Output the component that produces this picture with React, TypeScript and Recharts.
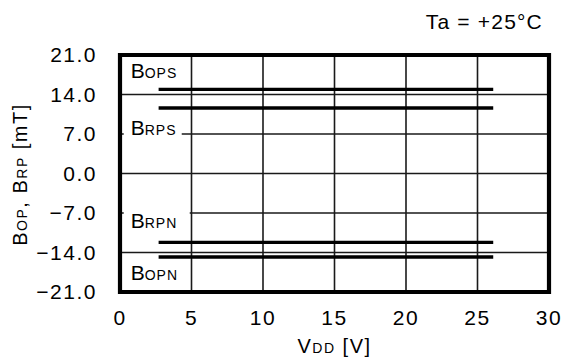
import { LineChart, Line, XAxis, YAxis, CartesianGrid, ReferenceArea, ReferenceDot, Label } from 'recharts';

// supply voltage range of the measured lines
const VDD = [2.7, 26.1];
// magnetic switching points [mT]
const B_OPS = [14.9, 14.9];
const B_RPS = [11.6, 11.6];
const B_RPN = [-12.2, -12.2];
const B_OPN = [-14.8, -14.8];

const X_TICKS = [0, 5, 10, 15, 20, 25, 30];
const Y_TICKS = [-21, -14, -7, 0, 7, 14, 21];

// in-plot tag names and anchor (data coords, text baseline start)
const TAG_NAMES = ['OPS', 'RPS', 'RPN', 'OPN'];
const TAG_X = [0.75, 0.75, 0.75, 0.75];
const TAG_Y = [16.87, 6.82, -9.66, -18.87];

const FONT = '"Liberation Sans", Arial, sans-serif';
const INK = '#000';
const GRID = '#1a1a1a';
const TAG_BOX: Record<string, number> = { RPS: 51, RPN: 59 };

const series = [B_OPS, B_RPS, B_RPN, B_OPN].map((vals, i) => ({
  key: TAG_NAMES[i],
  data: VDD.map((x, j) => ({ x, y: vals[j] })),
}));

const fmtY = (v: number) => (v < 0 ? '\u2212' + Math.abs(v).toFixed(1) : v.toFixed(1));

function Tag({ cx, cy, name }: any) {
  const boxW = TAG_BOX[name];
  return (
    <g>
      {boxW ? <rect x={cx - 7} y={cy - 17} width={boxW + 7} height={21} fill="#fff" /> : null}
      <text x={cx} y={cy} fill={INK} fontFamily={FONT}>
        <tspan fontSize={21}>B</tspan>
        <tspan fontSize={14} letterSpacing={1}>{name}</tspan>
      </text>
    </g>
  );
}

function YTitle({ viewBox }: any) {
  const cx = 27;
  const cy = viewBox.y + viewBox.height / 2 + 1;
  return (
    <text
      x={cx} y={cy} transform={`rotate(-90 ${cx} ${cy})`} textAnchor="middle"
      fill={INK} fontFamily={FONT} letterSpacing={1.5}
    >
      <tspan fontSize={20}>B</tspan>
      <tspan fontSize={14}>OP</tspan>
      <tspan fontSize={20}>, B</tspan>
      <tspan fontSize={14}>RP</tspan>
      <tspan fontSize={20}> [mT]</tspan>
    </text>
  );
}

function XTitle({ viewBox }: any) {
  const cx = viewBox.x + viewBox.width / 2;
  return (
    <text x={cx} y={353} textAnchor="middle" fill={INK} fontFamily={FONT} letterSpacing={1.5}>
      <tspan fontSize={20}>V</tspan>
      <tspan fontSize={14}>DD</tspan>
      <tspan fontSize={20}> [V]</tspan>
    </text>
  );
}

export default function App() {
  const tick = { fill: INK, fontSize: 21, fontFamily: FONT, letterSpacing: 1.5 };
  return (
    <div style={{ position: 'absolute', left: 0, top: 0, width: 565, height: 359, background: '#fff' }}>
      <div
        style={{
          position: 'absolute', right: 22, top: 11, fontFamily: FONT, fontSize: 21,
          lineHeight: '21px', letterSpacing: 1.2, color: INK, whiteSpace: 'nowrap',
        }}
      >
        Ta = +25°C
      </div>
      <LineChart width={565} height={359} margin={{ top: 55, right: 16, bottom: 7, left: 10 }}>
        <CartesianGrid stroke={GRID} strokeWidth={1.6} horizontalValues={Y_TICKS} verticalValues={X_TICKS} />
        <XAxis
          type="number" dataKey="x" domain={[0, 30]} ticks={X_TICKS} height={60}
          axisLine={false} tickLine={false} tickSize={0} tickMargin={18} tick={tick}
          allowDataOverflow
        >
          <Label content={<XTitle />} />
        </XAxis>
        <YAxis
          type="number" dataKey="y" domain={[-21, 21]} ticks={Y_TICKS} width={110}
          axisLine={false} tickLine={false} tickSize={0} tickMargin={23} tick={tick}
          tickFormatter={fmtY} allowDataOverflow
        >
          <Label content={<YTitle />} />
        </YAxis>
        {TAG_NAMES.map((n, i) => (
          <ReferenceDot
            key={n} x={TAG_X[i]} y={TAG_Y[i]} r={0} ifOverflow="visible"
            shape={(p: any) => <Tag cx={p.cx} cy={p.cy} name={n} />}
          />
        ))}
        {series.map((s) => (
          <Line
            key={s.key} data={s.data} dataKey="y" type="linear" stroke={INK} strokeWidth={3.4}
            dot={false} activeDot={false} isAnimationActive={false} strokeLinecap="butt"
          />
        ))}
        <ReferenceArea
          x1={0} x2={30} y1={-21} y2={21} fill="none" fillOpacity={0}
          stroke={INK} strokeWidth={4.2} ifOverflow="visible"
        />
      </LineChart>
    </div>
  );
}
